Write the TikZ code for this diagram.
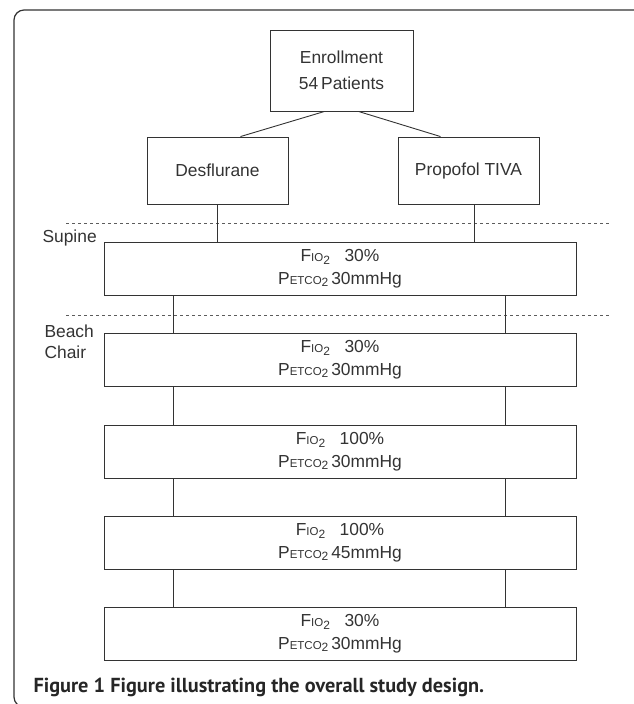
\documentclass[tikz,border=0pt]{standalone}
\usepackage{fontspec}
\setmainfont{Liberation Sans}
\newfontfamily\capfont{PT Sans}
\definecolor{ink}{HTML}{333333}
\newcommand{\fio}{F{\fontsize{11.5}{11}\selectfont IO}\raisebox{-3pt}{\fontsize{12}{12}\selectfont 2}}
\newcommand{\petco}{P{\fontsize{11.5}{11}\selectfont ETCO}\raisebox{-2pt}{\fontsize{12}{12}\selectfont 2}}
\tikzset{
  box/.style={draw=ink,line width=0.9pt,minimum width=141pt,minimum height=67pt,align=center,inner sep=0pt},
  stage/.style={box,minimum width=472pt,minimum height=53pt},
  sep/.style={draw=ink!80,line width=0.8pt,dash pattern=on 3pt off 3pt}
}
\begin{document}
\begin{tikzpicture}[x=1pt,y=-1pt,every node/.style={text=ink,font=\fontsize{17.4}{23}\selectfont}]
    \useasboundingbox (0,0) rectangle (633,704);
    % frame
    \draw[ink,line width=1.2pt,rounded corners=10pt] (680,10) -- (14,10) -- (14,707) -- (680,707);
    % groups
    \node[box,minimum width=143pt,minimum height=81pt,font=\fontsize{17.4}{26}\selectfont] (enroll) at (341.5,70.5) {Enrollment\\54\,Patients};
    \node[box] (desf) at (217.5,170.5) {Desflurane};
    \node[box] (prop) at (468.5,170.5) {Propofol TIVA};
    \draw [ink,line width=0.9pt] ([xshift=-17pt]enroll.south) -- ([xshift=23pt]desf.north);
    \draw [ink,line width=0.9pt] ([xshift=17pt]enroll.south) -- ([xshift=-28pt]prop.north);
    % positions
    \draw[sep] (66,223) -- (611,223);
    \draw[sep] (66,315) -- (611,315);
    \node[anchor=west] (supine) at (39,238) {Supine};
    \node[anchor=west,align=left,font=\fontsize{17.4}{21}\selectfont] (beach) at (41,342) {Beach\\Chair};
    % stages
    \node[stage] (s1) at (340,268.5) {\fio\ \ \ 30\%\\\petco\,30mmHg};
    \node[stage] (s2) at (340,360) {\fio\ \ \ 30\%\\\petco\,30mmHg};
    \node[stage] (s3) at (340,451.5) {\fio\ \ \ 100\%\\\petco\,30mmHg};
    \node[stage] (s4) at (340,542.5) {\fio\ \ \ 100\%\\\petco\,45mmHg};
    \node[stage] (s5) at (340,633.5) {\fio\ \ \ 30\%\\\petco\,30mmHg};
    \draw[ink,line width=0.9pt] (desf.south) -- (desf.south |- s1.north);
    \draw[ink,line width=0.9pt] ([xshift=6pt]prop.south) -- ([xshift=6pt]prop.south |- s1.north);
    \foreach \a/\b in {s1/s2,s2/s3,s3/s4,s4/s5} {
        \draw[ink,line width=0.9pt] ([xshift=-167pt]\a.south) -- ([xshift=-167pt]\b.north);
        \draw[ink,line width=0.9pt] ([xshift=165pt]\a.south) -- ([xshift=165pt]\b.north);
    }
    % caption
    \node[anchor=base west,text=black!85,font=\capfont\bfseries\fontsize{20.3}{22}\selectfont] (caption) at (30,692) {Figure 1 Figure illustrating the overall study design.};
\end{tikzpicture}
\end{document}
